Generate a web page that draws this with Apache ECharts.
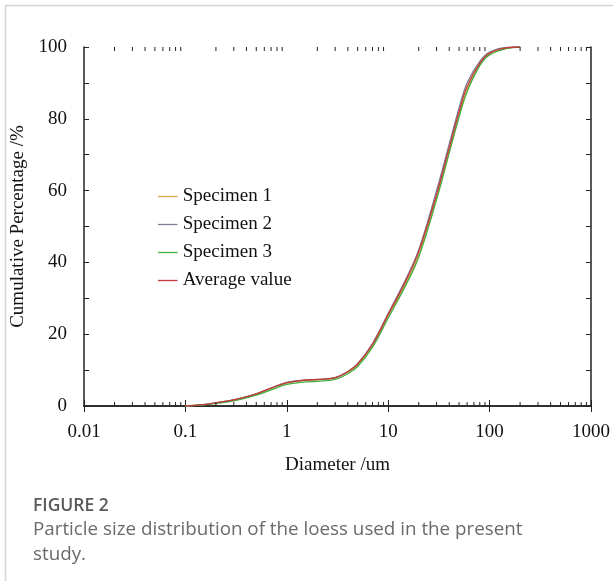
<!DOCTYPE html>
<html>
<head>
<meta charset="utf-8">
<script src="https://cdn.jsdelivr.net/npm/echarts@6/dist/echarts.min.js"></script>
<style>
html,body{margin:0;padding:0;background:#fff;}
#chart{width:613px;height:581px;}
</style>
</head>
<body>
<div id="chart"></div>
<script>
// ---- data ----
var diameters = [0.1,0.15,0.2,0.3,0.5,0.7,1,1.5,2,3,4,5,7,10,15,20,30,40,50,60,80,100,150,200];
var specimen1 = [0,0.4,0.9,1.7,3.3,4.9,6.4,7.1,7.3,7.8,9.4,11.4,16.8,25.0,34.3,42.0,58.0,71.0,81.0,88.0,95.0,98.0,99.7,100];
var specimen2 = [0,0.4,0.9,1.7,3.4,5.0,6.6,7.3,7.4,7.9,9.6,11.8,17.4,25.8,35.5,43.5,60.0,73.0,83.0,90.0,96.0,98.6,99.9,100];
var specimen3 = [0,0.3,0.7,1.4,3.0,4.5,6.0,6.7,6.9,7.4,9.0,11.0,16.4,24.5,33.8,41.5,57.5,70.5,80.5,87.5,94.8,97.8,99.6,100];
var averageValue = [0,0.4,0.9,1.7,3.4,5.0,6.5,7.2,7.4,7.9,9.6,11.7,17.2,25.5,35.0,43.0,59.0,72.0,82.0,89.0,95.5,98.3,99.8,100];
var seriesNames = ['Specimen 1','Specimen 2','Specimen 3','Average value'];
var seriesColors = ['#d9a640','#7d7d9c','#44b044','#c23a3a'];
var xTickValues = [0.01,0.1,1,10,100,1000];
var minorTickMultipliers = [2,3,4,5,6,7,8,9];
var captionTitle = 'FIGURE 2';
var captionLines = ['Particle size distribution of the loess used in the present','study.'];

// ---- build ----
function pairs(vals){ return diameters.map(function(d,i){ return [d, vals[i]]; }); }
var minorTicks = [];
for (var k = 0; k < xTickValues.length - 1; k++) {
  minorTickMultipliers.forEach(function(m){ minorTicks.push([xTickValues[k]*m, 0]); });
}
var serif = "'Liberation Serif','Times New Roman',serif";
var allSeries = [pairs(specimen1), pairs(specimen2), pairs(specimen3), pairs(averageValue)];
var lineSeries = allSeries.map(function(d,i){
  return {
    name: seriesNames[i], type:'line', data:d, showSymbol:false, symbol:'none',
    smooth:0.4,
    lineStyle:{color:seriesColors[i], width:1.3}, itemStyle:{color:seriesColors[i]},
    z: 3
  };
});
lineSeries.push({
  type:'custom', name:'minorTicks', data:minorTicks, silent:true, clip:false, z:5,
  encode:{x:0,y:1},
  renderItem:function(params, api){
    var v = api.value(0);
    var b = api.coord([v, 0]);
    var t = api.coord([v, 100]);
    var st = {stroke:'#222', lineWidth:1};
    return {type:'group', children:[
      {type:'line', shape:{x1:b[0], y1:b[1], x2:b[0], y2:b[1]-4}, style:st},
      {type:'line', shape:{x1:t[0], y1:t[1], x2:t[0], y2:t[1]+4}, style:st}
    ]};
  }
});

var legendData = seriesNames.map(function(n,i){
  return {name:n, icon:'path://M0,0H15V1H0Z', itemStyle:{color:seriesColors[i], borderWidth:0}};
});

var axisLineStyle = {show:true, lineStyle:{color:'#222', width:1.5}};
var chart = echarts.init(document.getElementById('chart'));
chart.setOption({
  animation:false,
  backgroundColor:'#fff',
  grid:{left:84, top:47, right:22, bottom:175, containLabel:false},
  legend:{
    data:legendData, orient:'vertical', left:153, top:182,
    itemWidth:20, itemHeight:1.3, itemGap:9,
    itemStyle:{borderWidth:0},
    textStyle:{fontFamily:serif, fontSize:19, color:'#111'}
  },
  xAxis:[{
    type:'log', logBase:10, min:0.01, max:1000, position:'bottom',
    name:'Diameter /um', nameLocation:'middle', nameGap:50,
    nameTextStyle:{fontFamily:serif, fontSize:19, color:'#111'},
    axisLine:axisLineStyle,
    axisTick:{show:true, inside:true, length:6, lineStyle:{color:'#222', width:1}},
    axisLabel:{fontFamily:serif, fontSize:19, color:'#111', margin:17,
      formatter:function(v){ return String(v); }},
    splitLine:{show:false}
  },{
    type:'log', logBase:10, min:0.01, max:1000, position:'top',
    axisLine:axisLineStyle,
    axisTick:{show:true, inside:true, length:6, lineStyle:{color:'#222', width:1}},
    axisLabel:{show:false}, splitLine:{show:false}
  }],
  yAxis:[{
    type:'value', min:0, max:100, interval:10, position:'left',
    name:'Cumulative Percentage /%', nameLocation:'middle', nameGap:56,
    nameTextStyle:{fontFamily:serif, fontSize:19, color:'#111'},
    axisLine:axisLineStyle,
    axisTick:{show:true, inside:true, length:5, lineStyle:{color:'#222', width:1}},
    axisLabel:{fontFamily:serif, fontSize:19, color:'#111', margin:17,
      formatter:function(v){ return v % 20 === 0 ? String(v) : ''; }},
    splitLine:{show:false}
  },{
    type:'value', min:0, max:100, interval:10, position:'right',
    axisLine:axisLineStyle,
    axisTick:{show:true, inside:true, length:5, lineStyle:{color:'#222', width:1}},
    axisLabel:{show:false}, splitLine:{show:false}
  }],
  series:lineSeries,
  graphic:[
    {type:'line', shape:{x1:5, y1:5.5, x2:613, y2:5.5}, style:{stroke:'#d4d4d4', lineWidth:1.5}, silent:true},
    {type:'line', shape:{x1:5.5, y1:5, x2:5.5, y2:581}, style:{stroke:'#d4d4d4', lineWidth:1.5}, silent:true},
    {type:'text', left:33, top:497, style:{text:captionTitle, font:"600 17.5px 'Open Sans',sans-serif", fill:'#5a5a5a'}},
    {type:'text', left:33, top:517, style:{text:captionLines.join('\n'), font:"18.8px 'Open Sans',sans-serif", fill:'#6a6a6a', lineHeight:25}}
  ]
});
</script>
</body>
</html>
